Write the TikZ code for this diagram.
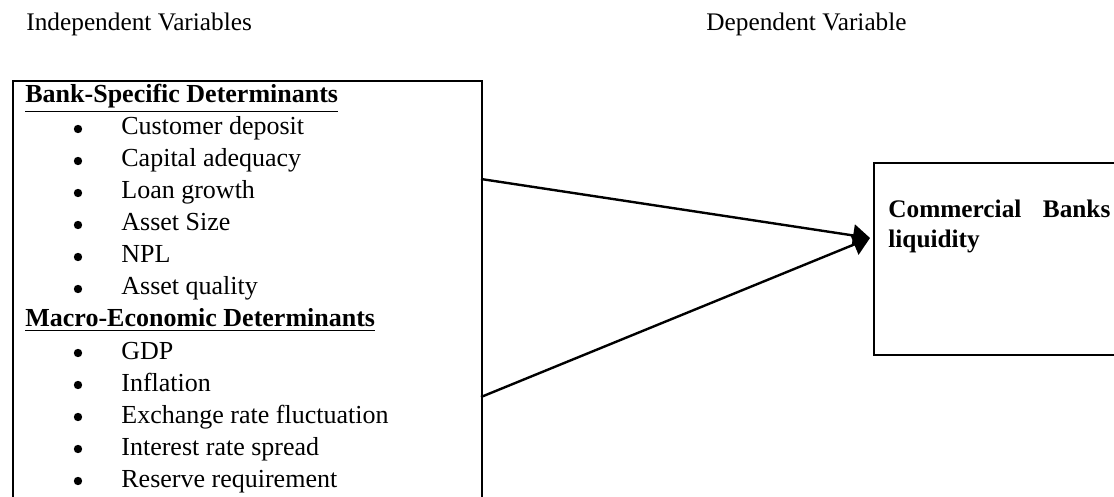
\documentclass[tikz,border=0pt]{standalone}
\usepackage{fontspec}
\setmainfont{Liberation Serif}
\usetikzlibrary{arrows.meta}

\begin{document}
\begin{tikzpicture}[x=0.5pt, y=-0.5pt,
		hd/.style={anchor=base west, inner sep=0pt, font=\fontsize{12.65}{15}\selectfont},
		txt/.style={anchor=base west, inner sep=0pt, font=\fontsize{13}{16}\selectfont},
		dot/.style={circle, fill=black, inner sep=0pt, minimum size=4.2pt},
		frame/.style={draw=black, line width=1.2pt, rectangle, anchor=north west, inner sep=0pt},
		arr/.style={draw=black, line width=1.2pt, -{Triangle[length=8.5pt, width=11pt]}}]
			\useasboundingbox (0,0) rectangle (1114,497);
			\clip (0,0) rectangle (1114,497);
			
			\node[hd] (indep) at (26,31){Independent Variables};
			\node[hd] (dep) at (706,31){Dependent Variable};
			
			\node[frame, minimum width=234.5pt, minimum height=220pt] (indepbox) at (12,80){};
			\node[frame, minimum width=150pt, minimum height=96pt] (depbox) at (873,162){};
			
			\node[txt] (bank) at (25,103){\bfseries\underline{Bank-Specific Determinants}};
			\node[txt] (dep1) at (121,135){Customer deposit};
			\node[txt] (cap) at (121,167){Capital adequacy};
			\node[txt] (loan) at (121,199){Loan growth};
			\node[txt] (size) at (121,231){Asset Size};
			\node[txt] (npl) at (121,263){NPL};
			\node[txt] (qual) at (121,295){Asset quality};
			\node[txt] (macro) at (25,327){\bfseries\underline{Macro-Economic Determinants}};
			\node[txt] (gdp) at (121,359){GDP};
			\node[txt] (infl) at (121,391){Inflation};
			\node[txt] (exch) at (121,423){Exchange rate fluctuation};
			\node[txt] (intr) at (121,455){Interest rate spread};
			\node[txt] (res) at (121,487){Reserve requirement};
			
			\node[dot] (b1) at (78,129){};
			\node[dot] (b2) at (78,161){};
			\node[dot] (b3) at (78,193){};
			\node[dot] (b4) at (78,225){};
			\node[dot] (b5) at (78,257){};
			\node[dot] (b6) at (78,289){};
			\node[dot] (b7) at (78,353){};
			\node[dot] (b8) at (78,385){};
			\node[dot] (b9) at (78,417){};
			\node[dot] (b10) at (78,449){};
			\node[dot] (b11) at (78,481){};
			
			\node[hd, text width=111pt, align=justify, font=\fontsize{12.65}{14.75}\selectfont\bfseries] (liq) at (888,218){Commercial Banks liquidity};
			
			\coordinate (bs) at (481,179);
			\coordinate (me) at (481,397);
			\coordinate (tip) at (870,238);
			
			\path (bs) edge[arr] (tip);
			\path (me) edge[arr] (tip);
\end{tikzpicture}
\end{document}
